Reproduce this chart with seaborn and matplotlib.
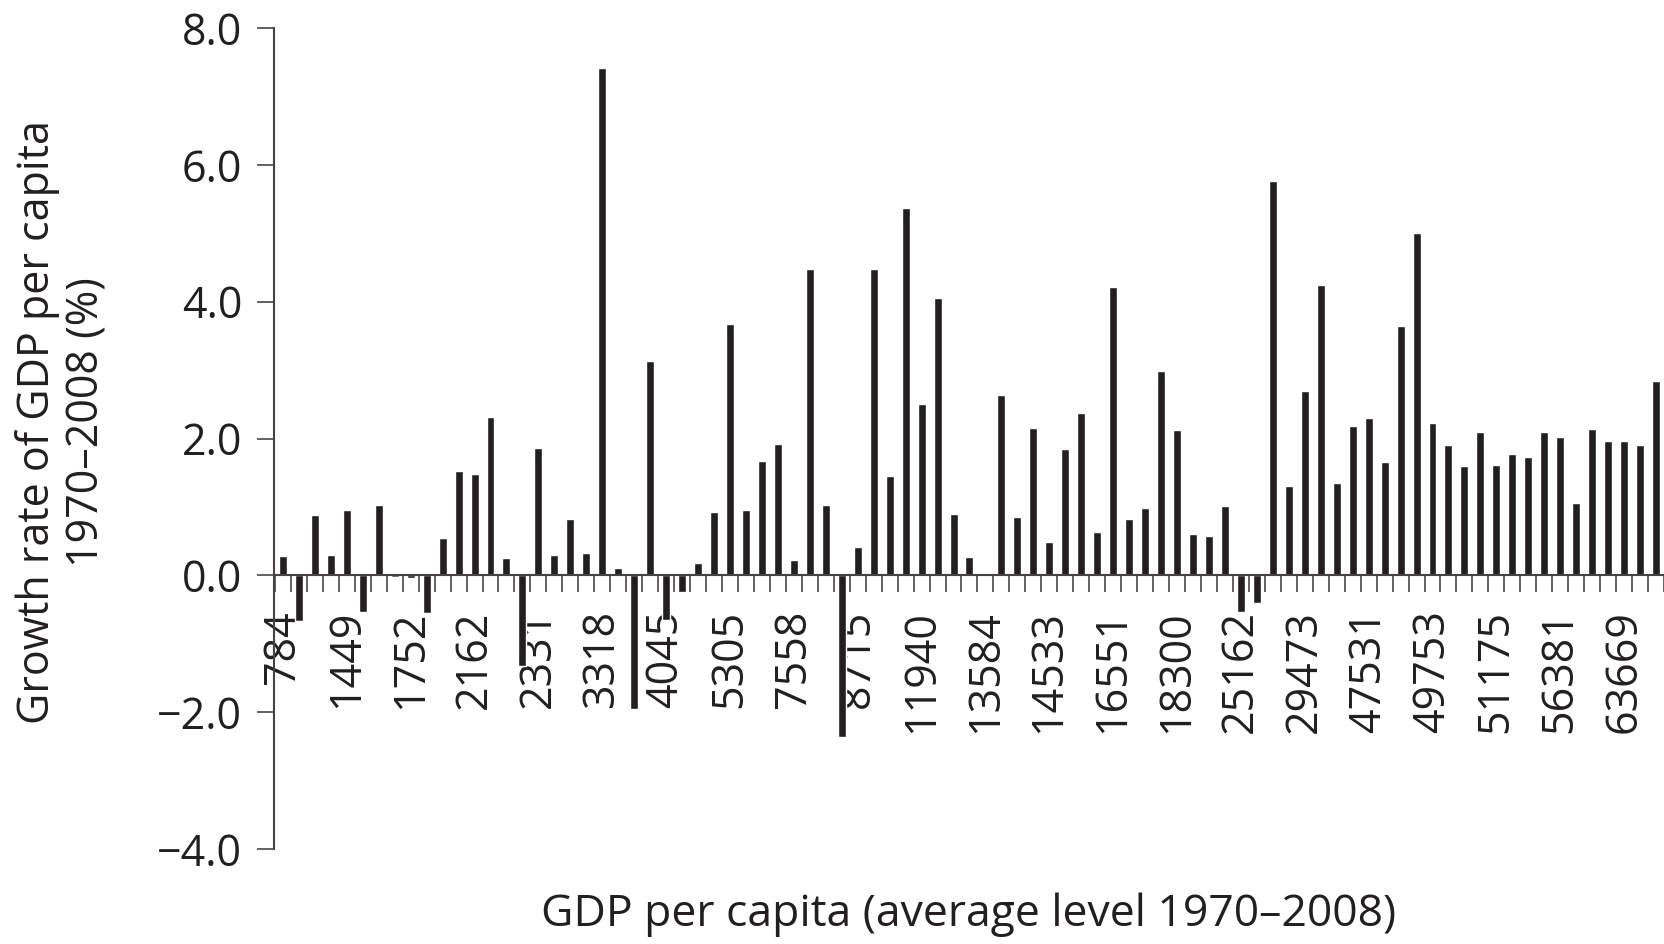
import numpy as np
import pandas as pd
import seaborn as sns
import matplotlib.pyplot as plt

# growth rate of GDP per capita 1970-2008 (%), countries sorted by average GDP level
growth = [0.28, -0.67, 0.88, 0.29, 0.95, -0.53, 1.03, -0.03, -0.04, -0.55,
          0.54, 1.53, 1.48, 2.31, 0.26, -1.33, 1.86, 0.29, 0.82, 0.33,
          7.41, 0.11, -1.96, 3.13, -0.66, -0.25, 0.18, 0.93, 3.67, 0.96,
          1.67, 1.92, 0.23, 4.48, 1.03, -2.37, 0.42, 4.48, 1.45, 5.37,
          2.51, 4.05, 0.90, 0.27, 0.03, 2.64, 0.85, 2.15, 0.49, 1.84,
          2.37, 0.63, 4.21, 0.83, 0.99, 2.99, 2.12, 0.61, 0.57, 1.01,
          -0.54, -0.40, 5.76, 1.31, 2.69, 4.24, 1.35, 2.19, 2.30, 1.66,
          3.64, 5.00, 2.22, 1.91, 1.60, 2.10, 1.61, 1.77, 1.73, 2.10,
          2.02, 1.06, 2.14, 1.97, 1.97, 1.90, 2.84]

# only every 4th country gets a label on the axis
gdp_labels = ['784', '1449', '1752', '2162', '2331', '3318', '4045', '5305',
              '7558', '8715', '11940', '13584', '14533', '16551', '18300',
              '25162', '29473', '47531', '49753', '51175', '56381', '63669']

df = pd.DataFrame({'country': range(len(growth)), 'growth': growth})

sns.set_style('ticks')
plt.rcParams['font.family'] = ['Open Sans', 'DejaVu Sans']
ink = '#231f20'

fig = plt.figure(figsize=(16.64, 9.44), dpi=100)
ax = fig.add_axes([274 / 1664, 95 / 944, 1.0 - 274 / 1664, 821 / 944])

sns.barplot(data=df, x='country', y='growth', color=ink, saturation=1,
            width=0.5, ax=ax)

ax.set_ylim(-4, 8)
ax.set_xlim(-0.56, 86.26)

ax.tick_params(axis='x', which='major', length=0, pad=25, labelsize=31,
               labelcolor=ink, labelrotation=90)
ax.tick_params(axis='x', which='minor', length=12, width=1.3, color='#555555')
ax.tick_params(axis='y', length=12, width=1.3, pad=11, labelsize=31,
               color='#555555', labelcolor=ink)

yt = np.arange(-4, 8.1, 2)
ax.set_yticks(yt)
ax.set_yticklabels([f'{v:.1f}'.replace('-', '\u2212') for v in yt])

ax.set_xticks(range(0, len(growth), 4))
ax.set_xticklabels(gdp_labels)
ax.set_xticks(np.arange(-0.5, len(growth), 1), minor=True)
for lab in ax.get_xticklabels():
    lab.set_verticalalignment('top')

for s in ['top', 'right']:
    ax.spines[s].set_visible(False)
ax.spines['bottom'].set_position(('data', 0))
ax.spines['left'].set_bounds(-4, 8)
for s in ['bottom', 'left']:
    ax.spines[s].set_color('#444444')
    ax.spines[s].set_linewidth(1.5)

ax.set_ylabel('Growth rate of GDP per capita\n1970\u20132008 (%)', fontsize=31,
              color=ink, va='center', linespacing=1.15)
ax.yaxis.set_label_coords(-0.1525, 0.52)
ax.set_xlabel('GDP per capita (average level 1970\u20132008)', fontsize=32,
              color=ink, va='center')
ax.xaxis.set_label_coords(0.5, -0.08)

plt.savefig('out.png', dpi=100)
